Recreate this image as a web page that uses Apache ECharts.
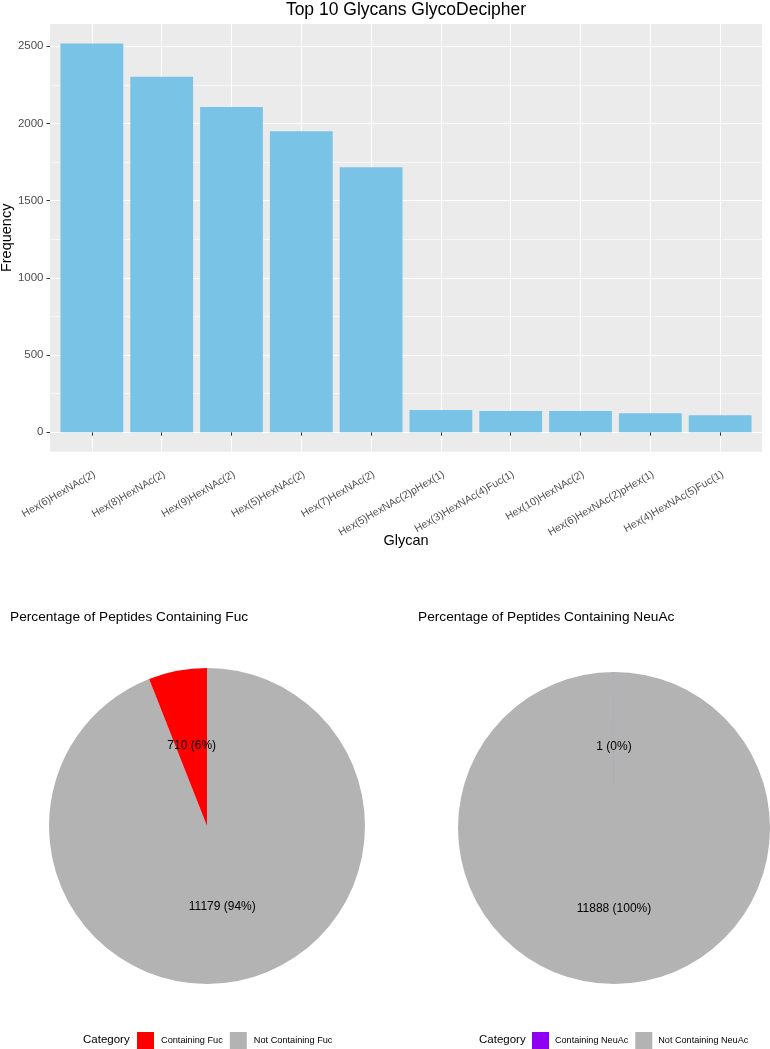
<!DOCTYPE html>
<html><head><meta charset="utf-8">
<script src="https://cdn.jsdelivr.net/npm/echarts@6/dist/echarts.min.js"></script>
<style>html,body{margin:0;padding:0;background:#fff}#c{width:770px;height:1049px}</style>
</head><body><div id="c"></div>
<script>
// ---- data ----
const glycans = ['Hex(6)HexNAc(2)','Hex(8)HexNAc(2)','Hex(9)HexNAc(2)','Hex(5)HexNAc(2)','Hex(7)HexNAc(2)',
  'Hex(5)HexNAc(2)pHex(1)','Hex(3)HexNAc(4)Fuc(1)','Hex(10)HexNAc(2)','Hex(6)HexNAc(2)pHex(1)','Hex(4)HexNAc(5)Fuc(1)'];
const frequency = [2518, 2302, 2106, 1950, 1717, 144, 138, 138, 123, 110];
const yMajorTicks = [0, 500, 1000, 1500, 2000, 2500];
const yMinorTicks = [250, 750, 1250, 1750, 2250];
const fucCategories = ['Containing Fuc', 'Not Containing Fuc'];
const fucCounts = [710, 11179];
const neuacCategories = ['Containing NeuAc', 'Not Containing NeuAc'];
const neuacCounts = [1, 11888];

const FONT = "'Liberation Sans', Arial, Helvetica, sans-serif";
const GRAY = '#B3B3B3';
const yTop = Math.max(...frequency);
const xIdx = glycans.map((g, i) => i + 1);

function pieSeries(cats, counts, colors, cx, cy, r) {
  // drawn clockwise from 12 o'clock, "Not containing" first so the small slice sits left of top
  const order = [1, 0];
  return {
    type: 'pie', center: [cx, cy], radius: r, startAngle: 90, clockwise: true,
    animation: false, silent: true,
    itemStyle: { borderWidth: 0 },
    label: {
      show: true, position: 'inside', fontFamily: FONT, fontSize: 12, color: '#000',
      formatter: p => p.value + ' (' + Math.round(p.percent) + '%)'
    },
    labelLine: { show: false },
    data: order.map(i => ({ name: cats[i], value: counts[i], itemStyle: { color: colors[i] } }))
  };
}

const chart = echarts.init(document.getElementById('c'), null, { renderer: 'canvas' });
chart.setOption({
  backgroundColor: '#fff',
  animation: false,
  textStyle: { fontFamily: FONT },
  title: [
    { text: 'Top 10 Glycans GlycoDecipher', left: 406, textAlign: 'center', top: 1, padding: 0,
      textStyle: { fontFamily: FONT, fontSize: 17.5, fontWeight: 'normal', color: '#000' } },
    { text: 'Percentage of Peptides Containing Fuc', left: 10, top: 610, padding: 0,
      textStyle: { fontFamily: FONT, fontSize: 13.7, fontWeight: 'normal', color: '#000' } },
    { text: 'Percentage of Peptides Containing NeuAc', left: 418, top: 610, padding: 0,
      textStyle: { fontFamily: FONT, fontSize: 13.7, fontWeight: 'normal', color: '#000' } },
    { text: 'Category', left: 83, top: 1034, padding: 0,
      textStyle: { fontFamily: FONT, fontSize: 11.5, fontWeight: 'normal', color: '#000' } },
    { text: 'Category', left: 479, top: 1034, padding: 0,
      textStyle: { fontFamily: FONT, fontSize: 11.5, fontWeight: 'normal', color: '#000' } }
  ],
  legend: [
    { data: fucCategories, left: 137, top: 1032, padding: 0, itemGap: 7, itemWidth: 17, itemHeight: 17,
      icon: 'rect', selectedMode: false,
      textStyle: { fontFamily: FONT, fontSize: 9.2, color: '#000', padding: [0, 0, 0, 2] } },
    { data: neuacCategories, left: 532, top: 1032, padding: 0, itemGap: 7, itemWidth: 17, itemHeight: 17,
      icon: 'rect', selectedMode: false,
      textStyle: { fontFamily: FONT, fontSize: 9.1, color: '#000', padding: [0, 0, 0, 1] } }
  ],
  grid: [{ left: 50, top: 24, right: 8, bottom: 597.3, show: true, backgroundColor: '#EBEBEB', borderWidth: 0,
    containLabel: false, outerBoundsMode: 'none' }],
  xAxis: [{
    type: 'value', gridIndex: 0, min: 0.4, max: glycans.length + 0.6,
    axisLine: { show: false },
    axisTick: { show: true, customValues: xIdx, length: 3.5, lineStyle: { color: '#333333', width: 1 } },
    axisLabel: { customValues: xIdx, formatter: v => glycans[v - 1], rotate: 30, fontSize: 10.5,
      color: '#4D4D4D', margin: 17, verticalAlign: 'top', fontFamily: FONT },
    splitLine: { show: true, lineStyle: { color: '#FFFFFF', width: 1.1 } },
    name: 'Glycan', nameLocation: 'middle', nameGap: 82, nameMoveOverlap: false,
    nameTextStyle: { fontFamily: FONT, fontSize: 14.5, color: '#000' }
  }],
  yAxis: [{
    type: 'value', gridIndex: 0, min: -0.05 * yTop, max: 1.05 * yTop,
    axisLine: { show: false },
    axisTick: { show: true, customValues: yMajorTicks, length: 3.5, lineStyle: { color: '#333333', width: 1 } },
    axisLabel: { customValues: yMajorTicks, formatter: v => String(v), fontSize: 11.5, color: '#4D4D4D',
      margin: 6.5, fontFamily: FONT },
    splitLine: { show: true, lineStyle: { color: '#FFFFFF', width: 1.1 } },
    name: 'Frequency', nameLocation: 'middle', nameRotate: 90, nameGap: 36, nameMoveOverlap: false,
    nameTextStyle: { fontFamily: FONT, fontSize: 14.5, color: '#000' }
  }, {
    type: 'value', gridIndex: 0, min: -0.05 * yTop, max: 1.05 * yTop, position: 'left',
    axisLine: { show: false },
    axisTick: { show: false, customValues: yMinorTicks },
    axisLabel: { show: false, customValues: yMinorTicks },
    splitLine: { show: true, lineStyle: { color: '#FFFFFF', width: 0.55 } }
  }],
  series: [
    { type: 'bar', xAxisIndex: 0, yAxisIndex: 0, barWidth: 62.8, silent: true,
      itemStyle: { color: '#78C3E6' },
      data: glycans.map((g, i) => [i + 1, frequency[i]]) },
    pieSeries(fucCategories, fucCounts, ['#FF0000', GRAY], 207, 826, 158),
    pieSeries(neuacCategories, neuacCounts, ['#9000F0', GRAY], 614, 828, 156)
  ]
});
</script></body></html>
